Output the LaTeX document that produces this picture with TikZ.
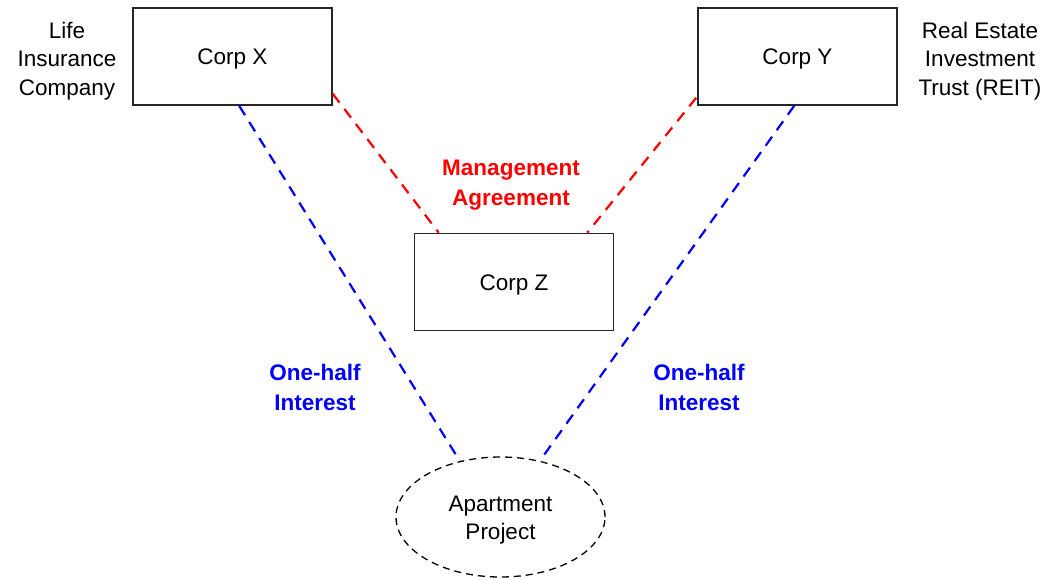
\documentclass[tikz,border=0pt]{standalone}
\usepackage{fontspec}
\setmainfont{Liberation Sans}
\usetikzlibrary{shapes.geometric,calc}
\definecolor{linkred}{RGB}{255,0,0}
\definecolor{linkblue}{RGB}{0,0,255}
\tikzset{
  corpbox/.style={draw=black!85, line width=1.6pt, minimum width=199pt, minimum height=97pt, inner sep=0pt, text height=16pt, text depth=0pt, font=\fontsize{22.5}{28.5}\selectfont},
  project/.style={ellipse, draw=black, line width=1.3pt, dash pattern=on 7pt off 5pt, minimum width=209pt, minimum height=120pt, inner sep=0pt, align=center, font=\fontsize{22.5}{28}\selectfont},
  sidetext/.style={align=center, inner sep=0pt, font=\fontsize{22.5}{28.5}\selectfont},
  redlabel/.style={align=center, inner sep=0pt, text=linkred, font=\bfseries\fontsize{22.5}{30}\selectfont},
  bluelabel/.style={align=center, inner sep=0pt, text=linkblue, font=\bfseries\fontsize{22.5}{30}\selectfont},
  mgmt/.style={draw=linkred, line width=2.2pt, dash pattern=on 11pt off 8pt},
  share/.style={draw=linkblue, line width=2.2pt, dash pattern=on 11pt off 8pt},
}
\begin{document}
\begin{tikzpicture}[x=1pt, y=-1pt]
  \useasboundingbox (0,0) rectangle (1059,579);

  % entities
  \node[corpbox] (X) at (232.5,56.5) {Corp X};
  \node[corpbox] (Y) at (797.5,56.5) {Corp Y};
  \node[corpbox] (Z) at (514,282) {Corp Z};
  \node[project] (P) at (500.5,517) {};
  \node[sidetext] (ptext) at (500.5,520) {Apartment\\Project};

  % descriptions beside the top boxes
  \node[sidetext] (lic) at (67,61) {Life\\Insurance\\Company};
  \node[sidetext] (reit) at (980,61) {Real Estate\\Investment\\Trust (REIT)};

  % management agreement links
  \draw[mgmt] ([yshift=12pt]X.south east) -- ([xshift=25pt]Z.north west);
  \draw[mgmt] ([yshift=8pt,xshift=-1pt]Y.south west) -- ([xshift=-27pt]Z.north east);
  \node[redlabel] (ma) at (511,185) {Management\\Agreement};

  % ownership links
  \draw[share] ([xshift=107pt]X.south west) -- (P.126);
  \draw[share] ([xshift=97pt]Y.south west) -- (P.55);
  \node[bluelabel] (ohl) at (315,387) {One-half\\Interest};
  \node[bluelabel] (ohr) at (699,387) {One-half\\Interest};
\end{tikzpicture}
\end{document}
